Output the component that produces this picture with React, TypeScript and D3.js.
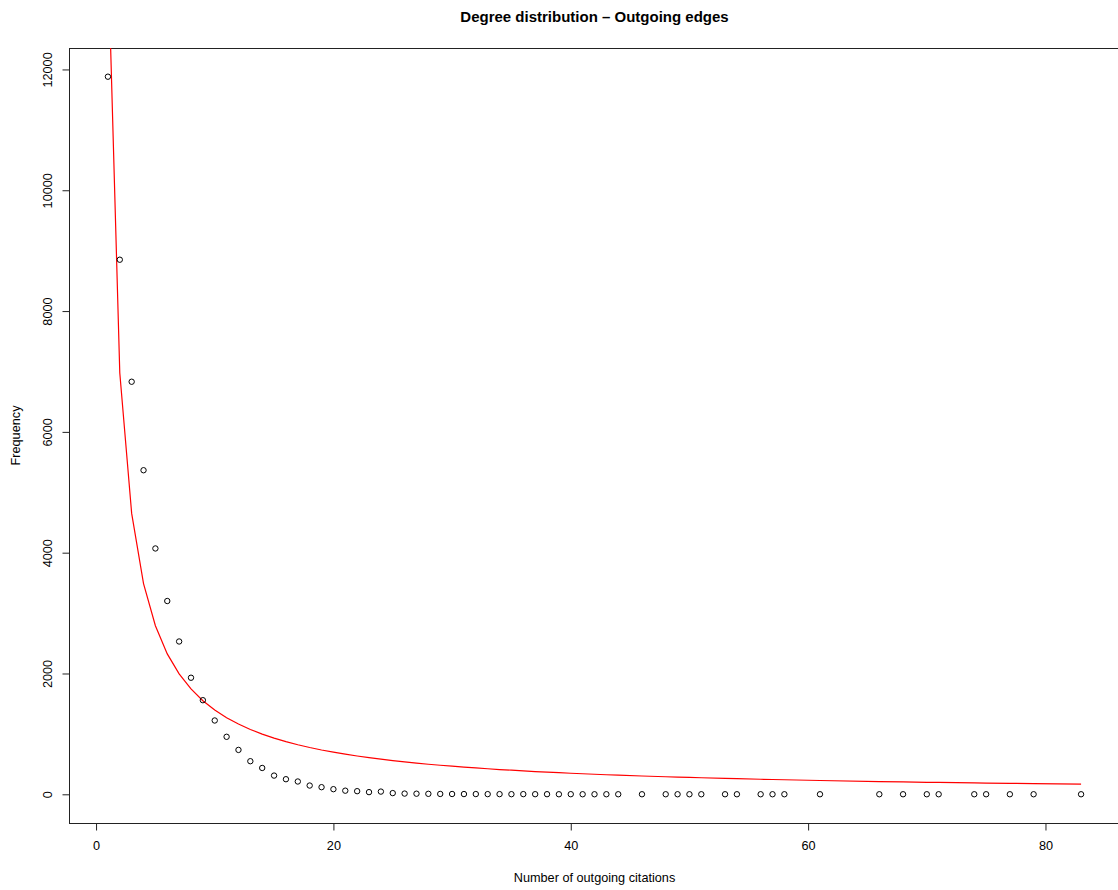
import * as d3 from "d3";
import React, { useEffect, useRef } from "react";

// degrees present in the data
const degrees = [
  1, 2, 3, 4, 5, 6, 7, 8, 9, 10, 11, 12, 13, 14, 15, 16, 17, 18, 19, 20, 21,
  22, 23, 24, 25, 26, 27, 28, 29, 30, 31, 32, 33, 34, 35, 36, 37, 38, 39, 40,
  41, 42, 43, 44, 46, 48, 49, 50, 51, 53, 54, 56, 57, 58, 61, 66, 68, 70, 71,
  74, 75, 77, 79, 83,
];

// observed frequency for each degree
const frequency = [
  11880, 8850, 6830, 5365, 4070, 3200, 2530, 1930, 1558, 1222, 952, 735, 548,
  436, 310, 250, 212, 145, 118, 85, 60, 52, 36, 45, 20, 12, 10, 8, 6, 5, 4, 4,
  3, 3, 2, 3, 2, 2, 1, 2, 1, 1, 1, 1, 1, 1, 1, 1, 1, 1, 1, 1, 1, 1, 1, 1, 1, 1,
  1, 1, 1, 1, 1, 1,
];

// fitted power-law curve (red line) read at each degree
const fitted = [
  13950, 6975, 4650, 3488, 2790, 2325, 1993, 1744, 1550, 1395, 1268, 1163,
  1073, 996, 930, 872, 821, 775, 734, 698, 664, 634, 607, 581, 558, 537, 517,
  498, 481, 465, 450, 436, 423, 410, 399, 388, 377, 367, 358, 349, 340, 332,
  324, 317, 303, 291, 285, 279, 274, 263, 258, 249, 245, 241, 229, 211, 205,
  199, 196, 189, 186, 181, 177, 168,
];

const xTicks = [0, 20, 40, 60, 80];
const yTicks = [0, 2000, 4000, 6000, 8000, 10000, 12000];

const W = 1118;
const H = 890;

const App = () => {
  const svgRef = useRef<SVGSVGElement>(null);

  useEffect(() => {
    const svg = d3.select(svgRef.current).html("");
    const left = 69,
      right = 1120,
      top = 48,
      bottom = 823;

    const x = d3.scaleLinear().domain([-2.28, 86.28]).range([left, right]);
    const y = d3.scaleLinear().domain([-475, 12355]).range([bottom, top]);

    svg
      .append("defs")
      .append("clipPath")
      .attr("id", "plotclip")
      .append("rect")
      .attr("x", left)
      .attr("y", top)
      .attr("width", right - left)
      .attr("height", bottom - top);

    // box (right side falls outside the picture)
    svg
      .append("rect")
      .attr("x", left + 0.5)
      .attr("y", top + 0.5)
      .attr("width", right - left)
      .attr("height", bottom - top)
      .attr("fill", "none")
      .attr("stroke", "#222")
      .attr("stroke-width", 1);

    const font = "Liberation Sans, Arial, Helvetica, sans-serif";
    const labelSize = 12.7;

    // x axis
    const xAxis = svg
      .append("g")
      .attr("transform", `translate(0,${bottom + 0.5})`)
      .call(d3.axisBottom(x).tickValues(xTicks).tickSize(7).tickPadding(10));
    xAxis.select(".domain").remove();
    xAxis
      .selectAll("text")
      .attr("font-family", font)
      .attr("font-size", labelSize)
      .attr("fill", "#000");
    xAxis.selectAll("line").attr("stroke", "#222");

    // y axis
    const yAxis = svg
      .append("g")
      .attr("transform", `translate(${left + 0.5},0)`)
      .call(d3.axisLeft(y).tickValues(yTicks).tickSize(7).tickFormat(d3.format("d")));
    yAxis.select(".domain").remove();
    yAxis.selectAll("line").attr("stroke", "#222");
    yAxis
      .selectAll("text")
      .attr("font-family", font)
      .attr("font-size", labelSize)
      .attr("fill", "#000")
      .attr("x", null)
      .attr("dy", null)
      .attr("text-anchor", "middle")
      .attr("transform", "translate(-18,0) rotate(-90)");

    // fitted line
    const line = d3
      .line<number>()
      .x((d, i) => x(degrees[i]))
      .y((d) => y(d));

    svg
      .append("path")
      .datum(fitted)
      .attr("clip-path", "url(#plotclip)")
      .attr("fill", "none")
      .attr("stroke", "#ff0000")
      .attr("stroke-width", 1.2)
      .attr("d", line);

    // points
    svg
      .append("g")
      .selectAll("circle")
      .data(frequency)
      .enter()
      .append("circle")
      .attr("cx", (d, i) => x(degrees[i]))
      .attr("cy", (d) => y(d))
      .attr("r", 2.7)
      .attr("fill", "none")
      .attr("stroke", "#000")
      .attr("stroke-width", 1);

    // titles
    svg
      .append("text")
      .attr("x", (left + right) / 2)
      .attr("y", 22)
      .attr("text-anchor", "middle")
      .attr("font-family", font)
      .attr("font-size", 15)
      .attr("font-weight", "bold")
      .text("Degree distribution \u2013 Outgoing edges");

    svg
      .append("text")
      .attr("x", (left + right) / 2)
      .attr("y", 882)
      .attr("text-anchor", "middle")
      .attr("font-family", font)
      .attr("font-size", labelSize)
      .text("Number of outgoing citations");

    svg
      .append("text")
      .attr("transform", `translate(20,${(top + bottom) / 2}) rotate(-90)`)
      .attr("text-anchor", "middle")
      .attr("font-family", font)
      .attr("font-size", labelSize)
      .text("Frequency");
  }, []);

  return (
    <svg
      ref={svgRef}
      width={W}
      height={H}
      style={{ position: "absolute", left: 0, top: 0, background: "#fff" }}
    />
  );
};

export default App;
